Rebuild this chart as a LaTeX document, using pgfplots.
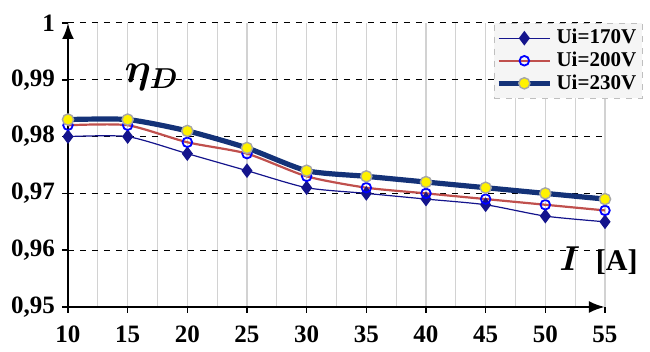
\documentclass[border=0pt]{standalone}
\usepackage{pgfplots}
\pgfplotsset{compat=1.18}
\usepackage{fontspec}
\setmainfont{Liberation Serif}
\usepackage{amsmath}
\usepackage{bm}
\usetikzlibrary{arrows.meta}
\definecolor{c170}{RGB}{20,20,140}
\definecolor{c200}{RGB}{192,80,77}
\definecolor{c230}{RGB}{20,50,120}
\begin{document}
\begin{tikzpicture}
\path[use as bounding box] (-34pt,-22.5pt) rectangle (291pt,153.5pt);
\begin{axis}[
  scale only axis,
  width=268.5pt, height=142pt,
  xmin=10, xmax=55, ymin=0.95, ymax=1,
  axis x line=bottom, axis y line=left,
  axis line style={line width=1.4pt,-{Latex[length=8pt,width=6pt]}},
  xtick={10,15,...,55},
  ytick={0.95,0.96,...,1.001},
  minor x tick num=1,
  xmajorgrids, xminorgrids, ymajorgrids,
  major x grid style={gray!35, line width=0.6pt},
  minor x grid style={gray!35, line width=0.6pt},
  major y grid style={black, dashed, line width=0.5pt},
  x tick style={black, thick}, y tick style={black, thick},
  xtick align=outside, ytick align=outside,
  major tick length=3pt, minor tick length=0pt,
  /pgf/number format/assume math mode=true,
  /pgf/number format/use comma,
  /pgf/number format/fixed,
  /pgf/number format/precision=2,
  ticklabel style={font=\fontsize{12.5}{13}\selectfont\bfseries},
  xticklabel style={yshift=-3pt},
  clip=false,
  legend style={at={(1.07,1.0)}, anchor=north east, draw=gray!50, dashed, fill=gray!8,
    font=\fontsize{10.5}{11}\selectfont\bfseries, inner sep=1pt, row sep=-1.5pt, legend cell align=left},
  legend image post style={solid},
  legend image code/.code={\draw[mark repeat=2,mark phase=2] plot coordinates {(0cm,0cm) (0.45cm,0cm) (0.9cm,0cm)};},
]
\addplot[c170, line width=0.6pt, smooth, tension=0.4, mark=diamond*, mark size=3.2pt, mark options={solid, fill=c170, draw=c170}] coordinates {
(10,0.980) (15,0.980) (20,0.977) (25,0.974) (30,0.971) (35,0.970) (40,0.969) (45,0.968) (50,0.966) (55,0.965)};
\addlegendentry{Ui=170V}
\addplot[c200, line width=1.1pt, smooth, tension=0.4, mark=o, mark size=2.4pt, mark options={solid, draw=blue, fill=white, line width=0.9pt}] coordinates {
(10,0.982) (15,0.982) (20,0.979) (25,0.977) (30,0.973) (35,0.971) (40,0.970) (45,0.969) (50,0.968) (55,0.967)};
\addlegendentry{Ui=200V}
\addplot[c230, line width=2.6pt, smooth, tension=0.4, mark=*, mark size=2.8pt, mark options={solid, fill=yellow, draw=gray!70, line width=0.7pt}] coordinates {
(10,0.983) (15,0.983) (20,0.981) (25,0.978) (30,0.974) (35,0.973) (40,0.972) (45,0.971) (50,0.970) (55,0.969)};
\addlegendentry{Ui=230V}
\node at (axis cs:17,0.9905) {\fontsize{22}{24}\selectfont$\bm{\eta}_{\bm{D}}$};
\node[anchor=base west] at (axis cs:50.6,0.9565) {\fontsize{16}{18}\selectfont$\bm{I}$\ \ \fontsize{15}{16}\selectfont\bfseries[A]};
\end{axis}
\end{tikzpicture}
\end{document}
